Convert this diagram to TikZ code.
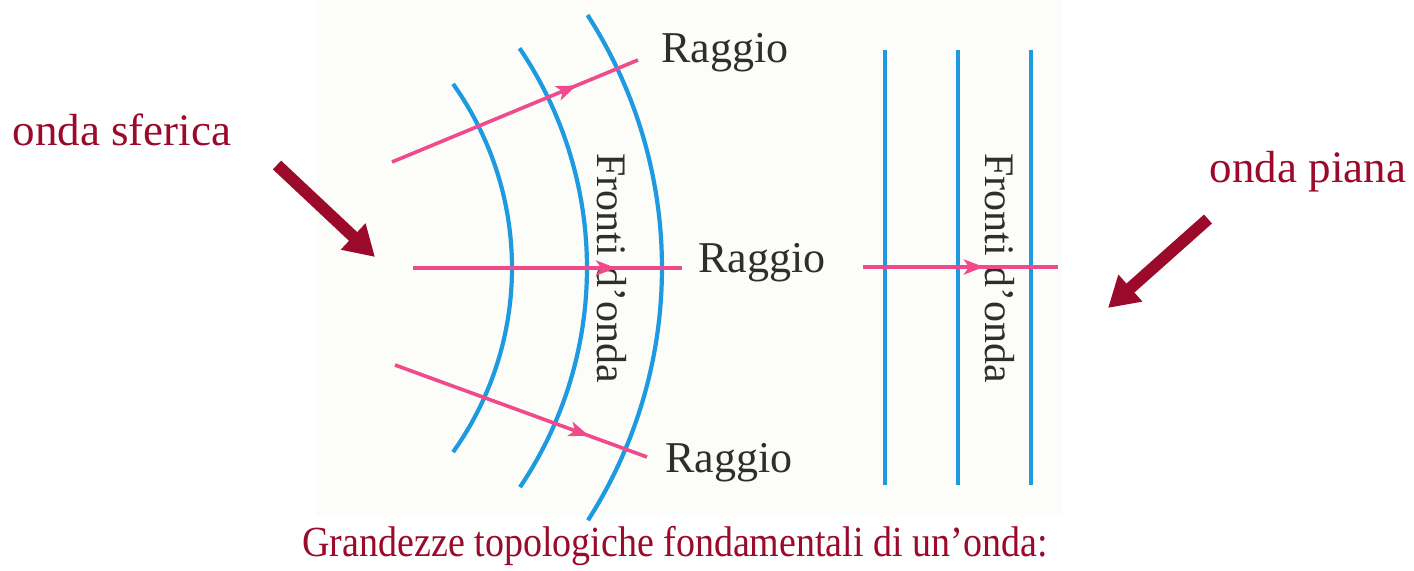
\documentclass[tikz,border=0pt]{standalone}
\usepackage{fontspec}
\setmainfont{Liberation Serif}
\usetikzlibrary{arrows.meta,decorations.markings}
\definecolor{wblue}{HTML}{1E9AE0}
\definecolor{rpink}{HTML}{EE4A8C}
\definecolor{dred}{HTML}{9B0A2A}
\definecolor{lbl}{HTML}{2E2E2E}
\definecolor{page}{HTML}{FCFCF9}
\tikzset{
  front/.style={wblue, line width=2.1pt},
  ray/.style={rpink, line width=1.8pt, postaction={decorate},
    decoration={markings, mark=at position #1 with {\arrow{Stealth[length=10pt,width=7.5pt,inset=2.5pt]}}}},
  lab/.style={lbl, font=\fontsize{22}{24}\selectfont, inner sep=0pt},
  frontlab/.style={lbl, font=\fontsize{21}{24}\selectfont, inner sep=0pt, rotate=-90},
  redlab/.style={dred, font=\fontsize{22.5}{25}\selectfont, inner sep=0pt},
  bigarrow/.style={dred, line width=6pt, -{Triangle[length=15pt,width=17pt]}}
}
\begin{document}
\begin{tikzpicture}[x=0.5pt,y=-0.5pt]
\useasboundingbox (0,0) rectangle (1414,571);
\fill[white] (0,0) rectangle (1414,571);
\fill[page] (316,0) rectangle (1062,515);
% spherical wavefronts
\draw[front] plot[domain=-35.5:35.5, samples=60] ({195+317*cos(\x)},{268+317*sin(\x)});
\draw[front] plot[domain=-34.1:34.0, samples=60] ({195+392*cos(\x)},{268+392*sin(\x)});
\draw[front] plot[domain=-32.8:32.7, samples=60] ({195+467*cos(\x)},{268+467*sin(\x)});
% labels
\node[lab] (r1) at (725,53) {Raggio};
\node[lab] (r2) at (762,263) {Raggio};
\node[lab] (r3) at (729,463) {Raggio};
\node[frontlab] (f1) at (612,268) {Fronti d’onda};
\node[frontlab] (f2) at (1000,268) {Fronti d’onda};
\node[redlab] (os) at (122,130) {onda sferica};
\node[redlab] (op) at (1308,172) {onda piana};
\node[font=\fontsize{19}{22}\selectfont, dred, inner sep=0pt] (title) at (675,546) {\scalebox{1}[1.13]{Grandezze topologiche fondamentali di un’onda:}};
% ray coordinates
\coordinate (a1) at (392,162); \coordinate (b1) at (638,60);
\coordinate (a2) at (413,268); \coordinate (b2) at (682,268);
\coordinate (a3) at (395,365); \coordinate (b3) at (647,457);
\draw[ray=0.75] (a1) -- (b1);
\draw[ray=0.755] (a2) -- (b2);
\draw[ray=0.77] (a3) -- (b3);
% plane wavefronts
\coordinate (p1t) at (885,50); \coordinate (p1b) at (885,485);
\coordinate (p2t) at (958,50); \coordinate (p2b) at (958,485);
\coordinate (p3t) at (1031,50); \coordinate (p3b) at (1031,485);
\draw[front] (p1t) -- (p1b);
\draw[front] (p2t) -- (p2b);
\draw[front] (p3t) -- (p3b);
\coordinate (a4) at (863,267); \coordinate (b4) at (1058,267);
\draw[ray=0.62] (a4) -- (b4);
% pointer arrows
\coordinate (s1) at (277,165); \coordinate (e1) at (375,257);
\coordinate (s2) at (1208,219); \coordinate (e2) at (1108,308);
\draw[bigarrow] (s1) -- (e1);
\draw[bigarrow] (s2) -- (e2);
\end{tikzpicture}
\end{document}
